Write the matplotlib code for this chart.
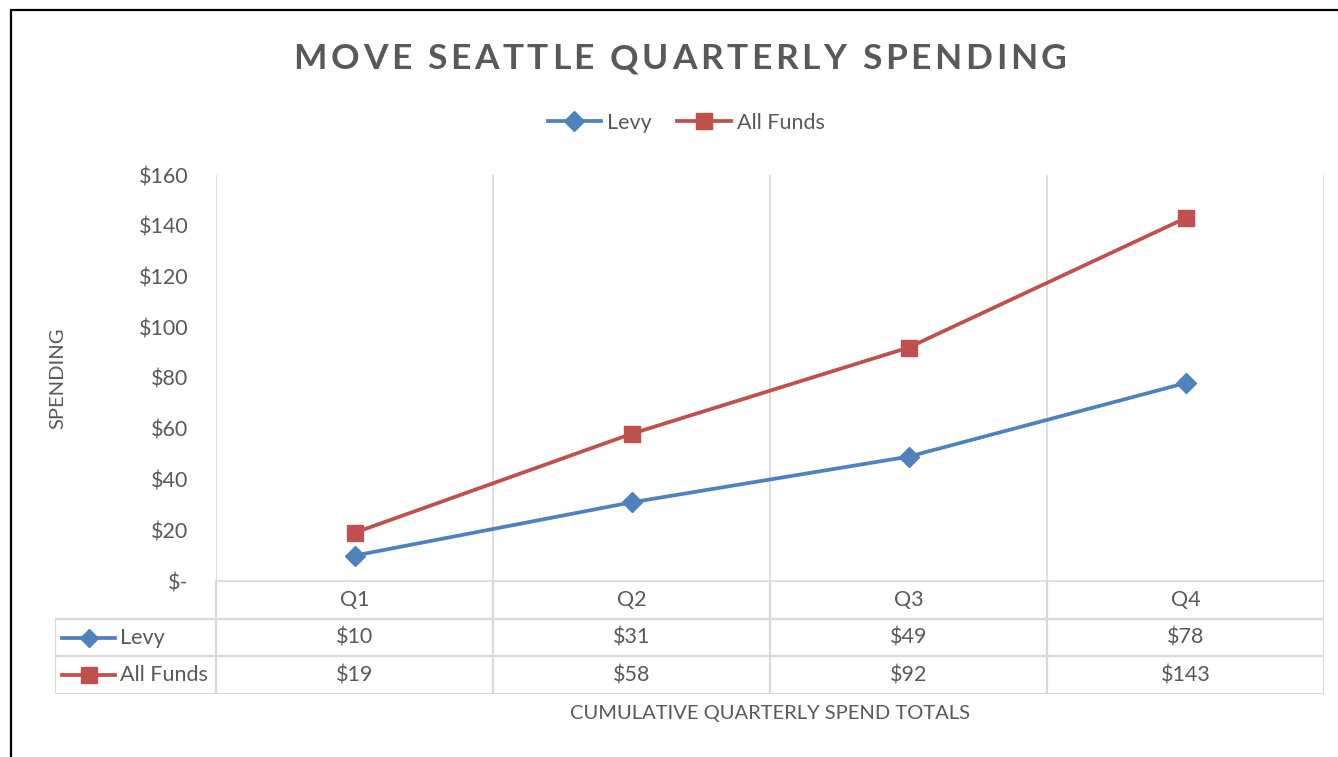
import matplotlib
matplotlib.use("Agg")
import matplotlib.pyplot as plt
from matplotlib.patches import Rectangle
from matplotlib.font_manager import FontProperties

plt.rcParams['font.family'] = ['Lato', 'DejaVu Sans']

# data
quarters = ["Q1", "Q2", "Q3", "Q4"]
levy = [10, 31, 49, 78]
all_funds = [19, 58, 92, 143]
yticks = [0, 20, 40, 60, 80, 100, 120, 140, 160]
ytick_labels = ["$-", "$20", "$40", "$60", "$80", "$100", "$120", "$140", "$160"]
title = "MOVE SEATTLE QUARTERLY SPENDING"

W, H = 1338, 757
BLUE = "#4f81bd"
RED = "#c0504d"
GREY_TXT = "#595959"
GRID = "#d9d9d9"
FS = 15.5

fig = plt.figure(figsize=(W / 100, H / 100), dpi=100)

# plot area (pixel geometry)
ax = fig.add_axes([216 / W, (H - 581) / H, 1108 / W, 406 / H])
x = list(range(len(quarters)))
ax.plot(x, levy, color=BLUE, lw=2.7, marker="D", ms=10, label="Levy", zorder=3)
ax.plot(x, all_funds, color=RED, lw=2.7, marker="s", ms=12, label="All Funds", zorder=3)
ax.set_xlim(-0.5, len(quarters) - 0.5)
ax.set_ylim(0, 160)
ax.set_yticks(yticks)
ax.set_yticklabels(ytick_labels, color=GREY_TXT, fontsize=FS)
ax.set_xticks([])
for sp in ["top", "right", "left"]:
    ax.spines[sp].set_visible(False)
ax.spines["bottom"].set_color(GRID)
ax.spines["bottom"].set_linewidth(1.2)
ax.tick_params(axis="y", length=0, pad=20)
for b in [i - 0.5 for i in range(len(quarters) + 1)]:
    ax.axvline(b, color=GRID, lw=1.2, zorder=1)

fig.text(58 / W, 1 - 378 / H, "SPENDING", rotation=90, ha="center", va="center",
         color=GREY_TXT, fontsize=14.5)

# data table below the plot
left_px = 55
col_w = 277
ax_t = fig.add_axes([left_px / W, (H - 694) / H, (1324 - left_px) / W, (694 - 581) / H])
x0 = -0.5 - (216 - left_px) / col_w
ax_t.set_xlim(x0, len(quarters) - 0.5)
ax_t.set_ylim(3, 0)
ax_t.axis("off")
lc = dict(color=GRID, lw=1.6, solid_capstyle="projecting")
for b in [i - 0.5 for i in range(len(quarters) + 1)]:
    ax_t.plot([b, b], [0, 3], **lc)
ax_t.plot([x0, x0], [1, 3], **lc)
for r in [1, 2, 3]:
    ax_t.plot([x0, len(quarters) - 0.5], [r, r], **lc)

for i, q in enumerate(quarters):
    ax_t.text(i, 0.5, q, ha="center", va="center", fontsize=FS, color=GREY_TXT)
    ax_t.text(i, 1.5, f"${levy[i]}", ha="center", va="center", fontsize=FS, color=GREY_TXT)
    ax_t.text(i, 2.5, f"${all_funds[i]}", ha="center", va="center", fontsize=FS, color=GREY_TXT)

k0 = x0 + 7 / col_w
k1 = x0 + 60 / col_w
km = (k0 + k1) / 2
for row, color, mk, ms, name in [(1.5, BLUE, "D", 9.5, "Levy"), (2.5, RED, "s", 11, "All Funds")]:
    ax_t.plot([k0, km, k1], [row, row, row], color=color, lw=2.7, marker=mk, ms=ms, markevery=[1])
    ax_t.text(x0 + 65 / col_w, row, name, ha="left", va="center", fontsize=FS, color=GREY_TXT)

fig.text(770 / W, 1 - 714 / H, "CUMULATIVE QUARTERLY SPEND TOTALS", ha="center", va="center",
         fontsize=14.5, color=GREY_TXT)

# title with letter spacing
renderer = fig.canvas.get_renderer()
tprop = FontProperties(family=['Lato', 'DejaVu Sans'], weight="bold", size=25.5)

def text_w(s):
    w, _, _ = renderer.get_text_width_height_descent(s, tprop, ismath=False)
    return w

sentinel = text_w("M")
starts = [text_w(title[:i] + "M") - sentinel if i else 0 for i in range(len(title))]
plain_w = text_w(title)
target_w = 773
spacing = (target_w - plain_w) / (len(title) - 1)
left = 680 - target_w / 2
for i, ch in enumerate(title):
    if ch == " ":
        continue
    px = left + starts[i] + i * spacing
    fig.text(px / W, 1 - 56 / H, ch, ha="left", va="center_baseline", fontproperties=tprop,
             color=GREY_TXT)

fig.legend(loc="center", bbox_to_anchor=(686 / W, 1 - 123 / H), ncol=2, frameon=False,
           fontsize=FS, handlelength=2.5, handletextpad=0.25, columnspacing=1.2,
           labelcolor=GREY_TXT)

# chart frame
fig.add_artist(Rectangle((11 / W, -0.1), 1.2, 1 - 10 / H + 0.1, transform=fig.transFigure,
                         fill=False, edgecolor="black", lw=1.6))

fig.savefig("out.png", dpi=100)
